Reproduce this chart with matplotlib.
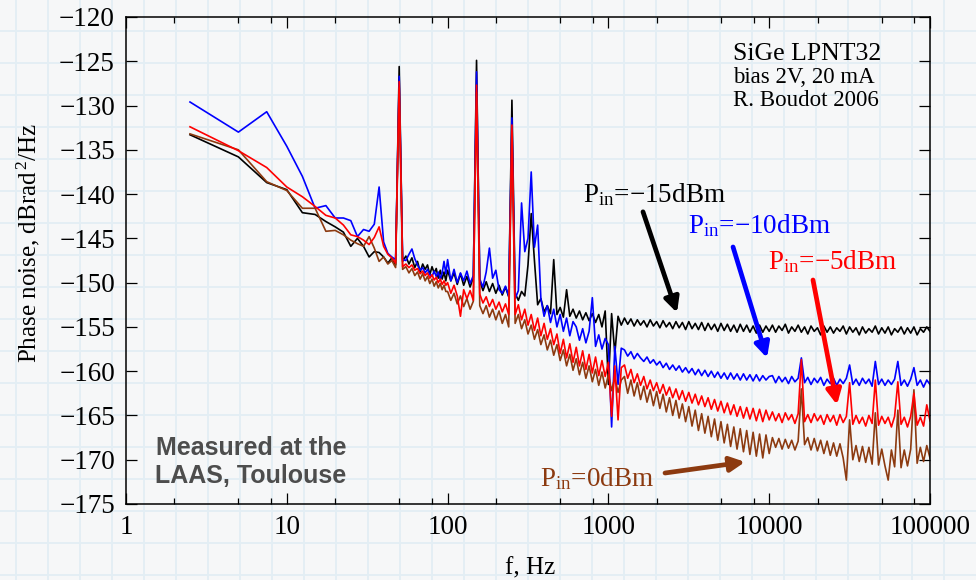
import numpy as np
import matplotlib.pyplot as plt
from matplotlib.ticker import FixedLocator, NullFormatter

plt.rcParams['font.family'] = ['Liberation Serif', 'DejaVu Serif']
plt.rcParams['mathtext.fontset'] = 'custom'
plt.rcParams['mathtext.rm'] = 'Liberation Serif'
plt.rcParams['mathtext.it'] = 'Liberation Serif:italic'

# FFT bins: 2.5 Hz steps below 100 Hz, 50 points per decade above
freq_lo = [2.5 * k for k in range(1, 40)]
freq_hi = [100 * 10 ** (k / 50) for k in range(151)]

# Pin = -15 dBm
black_lo = [-133.3, -135.8, -138.7, -139.5, -142.1, -142.3, -143.1, -143.7, -144.3, -145.9,
            -145.0, -145.9, -147.1, -146.5, -146.6, -147.1, -147.8, -147.2, -148.0, -125.6,
            -147.6, -147.0, -147.9, -147.2, -148.3, -147.6, -148.8, -147.9, -148.5, -148.0,
            -149.1, -148.2, -148.9, -148.4, -149.5, -148.6, -149.6, -148.8, -149.8]
black_hi = [-148.6, -149.8, -148.9, -150.2, -149.0, -150.3, -149.3, -150.5, -149.4, -124.9,
            -149.8, -150.9, -149.9, -151.0, -150.1, -151.2, -150.3, -151.4, -150.5, -151.6,
            -129.4, -151.2, -152.0, -151.0, -151.5, -148.0, -142.2, -147.5, -152.5, -151.8,
            -153.3, -152.6, -153.5, -147.4, -153.6, -152.8, -153.9, -150.8, -153.8, -153.0,
            -154.0, -153.2, -154.2, -153.4, -154.3, -153.5, -154.5, -153.6, -155.0, -153.2,
            -161.5, -153.5, -158.0, -153.8, -154.8, -154.0, -154.7, -154.1, -154.9, -154.2,
            -154.8, -154.3, -155.0, -154.2, -154.9, -154.4, -155.1, -154.3, -155.0, -154.5,
            -155.2, -154.4, -155.1, -154.5, -155.3, -154.4, -155.2, -154.6, -155.3, -154.5,
            -155.4, -154.6, -155.3, -154.7, -155.5, -154.6, -155.4, -154.7, -155.5, -154.8,
            -155.6, -154.7, -155.5, -154.8, -155.6, -154.9, -155.7, -154.8, -155.6, -154.9,
            -155.5, -154.8, -155.6, -154.9, -155.4, -154.7, -155.7, -155.0, -155.5, -154.8,
            -155.6, -155.0, -155.8, -154.9, -155.5, -155.1, -155.9, -154.9, -155.6, -155.0,
            -155.7, -155.1, -155.5, -154.9, -155.8, -155.0, -155.6, -155.1, -155.9, -155.0,
            -155.7, -155.2, -155.6, -154.9, -155.8, -155.1, -155.7, -155.0, -155.9, -155.2,
            -155.6, -155.0, -155.8, -155.1, -155.7, -155.0, -155.9, -155.2, -155.6, -155.0,
            -155.5]

# Pin = -10 dBm
blue_lo = [-129.6, -133.0, -130.7, -134.6, -138.0, -141.6, -141.3, -142.7, -142.7, -143.0,
           -144.8, -144.0, -144.2, -143.4, -139.2, -145.4, -146.7, -147.1, -147.4, -126.7,
           -147.4, -147.5, -146.8, -146.2, -147.3, -148.0, -148.6, -148.3, -148.9, -148.5,
           -149.1, -149.3, -148.7, -149.3, -148.8, -149.6, -148.9, -147.6, -149.0]
blue_hi = [-147.4, -149.8, -148.5, -150.0, -148.9, -149.8, -148.7, -150.1, -149.2, -126.2,
           -149.6, -150.5, -148.8, -146.1, -149.5, -148.6, -150.8, -151.2, -150.4, -151.5,
           -131.4, -151.8, -150.9, -141.0, -146.5, -145.0, -137.5, -146.0, -143.5, -151.8,
           -153.8, -152.6, -154.5, -153.0, -155.0, -153.6, -155.5, -154.0, -156.0, -154.4,
           -155.0, -156.5, -155.2, -156.8, -155.5, -151.7, -157.2, -155.9, -157.5, -156.3,
           -157.0, -166.3, -157.2, -161.5, -157.4, -157.6, -158.3, -157.8, -158.6, -158.0,
           -158.5, -158.9, -158.4, -159.1, -158.7, -159.3, -158.9, -159.6, -159.1, -159.8,
           -159.3, -159.9, -159.4, -160.1, -159.6, -160.2, -159.7, -160.4, -159.8, -160.5,
           -159.9, -160.6, -160.0, -160.7, -160.1, -160.8, -160.2, -160.9, -160.2, -160.9,
           -160.3, -161.0, -160.3, -161.0, -160.4, -161.1, -160.4, -161.1, -160.5, -161.0,
           -160.6, -160.5, -161.3, -160.6, -161.2, -160.7, -161.4, -160.6, -161.2, -160.8,
           -158.5, -161.3, -160.7, -161.5, -160.8, -161.3, -160.7, -161.6, -160.9, -161.4,
           -160.8, -161.6, -160.9, -161.4, -160.8, -159.3, -161.5, -160.9, -161.6, -160.8,
           -161.4, -160.9, -161.7, -158.9, -161.5, -160.9, -161.6, -161.0, -161.5, -160.9,
           -158.9, -161.6, -161.0, -161.7, -160.9, -159.6, -161.6, -161.0, -161.8, -161.0,
           -161.5]

# Pin = -5 dBm
red_lo = [-132.4, -135.1, -137.0, -139.2, -140.3, -141.4, -142.4, -142.7, -143.5, -144.6,
          -144.8, -145.2, -145.7, -144.9, -143.7, -145.9, -146.8, -147.2, -147.8, -127.3,
          -148.2, -147.9, -148.3, -148.0, -148.6, -148.4, -149.0, -148.7, -149.2, -148.9,
          -149.5, -149.1, -149.7, -149.4, -150.0, -149.6, -150.2, -149.8, -150.3]
red_hi = [-150.0, -151.2, -150.3, -151.5, -153.8, -150.8, -151.8, -150.9, -152.0, -127.7,
          -151.3, -152.3, -151.6, -152.7, -151.9, -153.0, -152.2, -153.3, -152.4, -153.6,
          -132.2, -153.6, -152.5, -154.2, -153.0, -154.8, -153.6, -155.4, -154.0, -156.0,
          -154.6, -156.4, -155.2, -157.0, -155.8, -158.0, -156.4, -158.5, -156.9, -159.0,
          -157.3, -159.4, -157.7, -159.8, -158.1, -160.2, -158.4, -160.5, -158.8, -160.6,
          -159.0, -165.1, -159.4, -165.5, -159.6, -159.3, -160.8, -159.8, -161.3, -160.3,
          -161.6, -160.6, -162.0, -161.0, -162.2, -161.3, -162.5, -161.5, -162.7, -161.8,
          -163.0, -162.0, -163.2, -162.2, -163.4, -162.4, -163.6, -162.6, -163.8, -162.8,
          -164.0, -163.0, -164.3, -163.2, -164.5, -163.4, -164.7, -163.6, -164.9, -163.8,
          -165.1, -164.0, -165.3, -164.1, -165.4, -164.2, -165.6, -164.3, -165.7, -164.4,
          -165.5, -164.6, -165.6, -164.8, -165.8, -164.7, -165.5, -164.9, -165.9, -164.8,
          -158.7, -165.7, -164.9, -165.8, -164.8, -165.6, -165.0, -166.0, -164.9, -165.7,
          -165.0, -166.1, -164.9, -165.8, -165.1, -161.3, -166.0, -165.0, -165.9, -165.2,
          -166.2, -165.0, -165.9, -161.0, -166.1, -165.1, -165.9, -165.2, -166.3, -165.1,
          -161.2, -166.0, -165.2, -166.3, -165.1, -162.5, -166.1, -165.2, -166.2, -163.8,
          -165.6]

# Pin = 0 dBm
brown_lo = [-133.2, -135.0, -138.6, -139.6, -141.6, -141.6, -144.2, -144.1, -144.6, -145.2,
            -145.6, -145.9, -144.8, -146.1, -147.6, -147.1, -147.9, -147.5, -148.3, -128.0,
            -148.5, -148.2, -148.9, -148.4, -149.2, -148.8, -149.6, -149.0, -149.8, -149.3,
            -150.1, -149.6, -150.4, -149.9, -150.6, -150.1, -150.8, -150.3, -151.0]
brown_hi = [-151.0, -152.0, -151.2, -152.4, -151.5, -152.7, -151.8, -153.0, -152.1, -128.5,
            -152.6, -153.5, -152.6, -153.9, -153.0, -154.2, -153.2, -154.6, -153.6, -155.0,
            -133.0, -154.6, -153.6, -155.2, -154.2, -155.8, -154.8, -156.4, -155.3, -157.0,
            -155.9, -157.6, -156.5, -158.2, -157.0, -158.8, -157.6, -159.4, -158.1, -159.9,
            -158.6, -160.4, -159.0, -160.8, -159.4, -161.2, -159.8, -161.6, -160.1, -161.9,
            -160.4, -162.2, -160.7, -162.4, -161.0, -160.6, -162.5, -161.0, -162.8, -161.3,
            -163.2, -161.7, -163.5, -162.1, -163.9, -162.3, -164.2, -162.6, -164.6, -163.0,
            -165.0, -163.3, -165.3, -163.7, -165.7, -164.0, -166.2, -164.4, -166.7, -164.8,
            -167.0, -165.1, -167.4, -165.4, -167.8, -165.7, -168.1, -166.0, -168.5, -166.3,
            -168.8, -166.5, -169.1, -166.7, -169.4, -166.9, -169.6, -167.1, -169.8, -167.2,
            -169.3, -167.5, -168.6, -167.6, -168.8, -167.7, -168.7, -167.8, -168.9, -167.9,
            -162.0, -168.3, -167.5, -168.9, -167.6, -169.0, -167.8, -169.3, -167.9, -169.5,
            -168.1, -169.6, -168.2, -169.8, -172.3, -165.5, -170.0, -168.4, -170.2, -168.5,
            -170.3, -168.6, -170.5, -164.7, -170.6, -168.8, -170.7, -172.3, -168.9, -170.8,
            -164.4, -170.9, -168.9, -170.7, -168.8, -162.1, -170.4, -168.6, -170.2, -168.4,
            -169.8]

c_black = '#000000'
c_blue = '#0000ff'
c_red = '#ff0000'
c_brown = '#8c3a10'

fig = plt.figure(figsize=(9.76, 5.8), dpi=100, facecolor='#f6f7f8')

# graph-paper background
bg = fig.add_axes([0, 0, 1, 1], zorder=-5)
bg.set_xlim(0, 976)
bg.set_ylim(580, 0)
bg.axis('off')
for x in range(16, 976, 32):
    bg.axvline(x, color='#e3eef4', lw=1.3)
for y in range(31, 580, 32):
    bg.axhline(y, color='#e3eef4', lw=1.3)

ax = fig.add_axes([126 / 976, 1 - 504 / 580, (930 - 126) / 976, (504 - 17) / 580])
ax.patch.set_alpha(0)

freq = np.concatenate([freq_lo, freq_hi])
for lo, hi, col in [(black_lo, black_hi, c_black), (blue_lo, blue_hi, c_blue),
                    (brown_lo, brown_hi, c_brown), (red_lo, red_hi, c_red)]:
    ax.plot(freq, np.concatenate([lo, hi]), color=col, lw=1.2)

ax.set_xscale('log')
ax.set_xlim(1, 1e5)
ax.set_ylim(-175, -120)
ax.set_xticks([1, 10, 100, 1000, 10000, 100000])
ax.set_xticklabels(['1', '10', '100', '1000', '10000', '100000'])
ax.xaxis.set_minor_locator(FixedLocator([m * 10 ** d for d in range(5) for m in (2, 5, 8)]))
ax.xaxis.set_minor_formatter(NullFormatter())
ax.set_yticks(range(-175, -119, 5))
ax.tick_params(which='both', direction='in', top=True, right=True, width=0.9)
ax.tick_params(which='major', length=8, labelsize=19.5, pad=8)
ax.tick_params(which='minor', length=4.5)
for s in ax.spines.values():
    s.set_linewidth(1.1)

fig.text(28 / 976, 1 - 243 / 580, r'Phase noise, dBrad$^{\,2}$/Hz', rotation=90,
         ha='center', va='center', fontsize=18)
fig.text(530 / 976, 1 - 568 / 580, 'f, Hz', ha='center', va='center', fontsize=18)

ax.text(5957, -124.86, 'SiGe LPNT32', fontsize=18.5, va='baseline')
ax.text(5957, -127.45, 'bias 2V, 20 mA', fontsize=16.5, va='baseline')
ax.text(5957, -130.05, 'R. Boudot 2006', fontsize=16.5, va='baseline')

ax.text(5.99, -170.25, 'Measured at the\nLAAS, Toulouse', ha='center', va='center',
        fontsize=18, fontweight='bold', color='#4d4d4d', linespacing=1.2,
        family=['Liberation Sans', 'DejaVu Sans'])

ax.text(695, -140.85, r'P$_{\rm in}$=−15dBm', color=c_black, fontsize=19.5, va='baseline')
ax.text(3126, -144.4, r'P$_{\rm in}$=−10dBm', color=c_blue, fontsize=19.5, va='baseline')
ax.text(9840, -148.46, r'P$_{\rm in}$=−5dBm', color=c_red, fontsize=19.5, va='baseline')
ax.text(375.5, -172.96, r'P$_{\rm in}$=0dBm', color=c_brown, fontsize=19.5, va='baseline')

arrows = [((1641, -142.0), (2672, -153.4), c_black),
          ((5957, -145.97), (9690, -158.5), c_blue),
          ((18720, -149.7), (26400, -163.8), c_red),
          ((2249, -171.5), (7080, -170.25), c_brown)]
for start, tip, col in arrows:
    ax.annotate('', xy=tip, xytext=start,
                arrowprops=dict(arrowstyle='-|>', color=col, lw=3.4,
                                mutation_scale=22, shrinkA=0, shrinkB=0))

fig.savefig('out.png', dpi=100, facecolor=fig.get_facecolor())
